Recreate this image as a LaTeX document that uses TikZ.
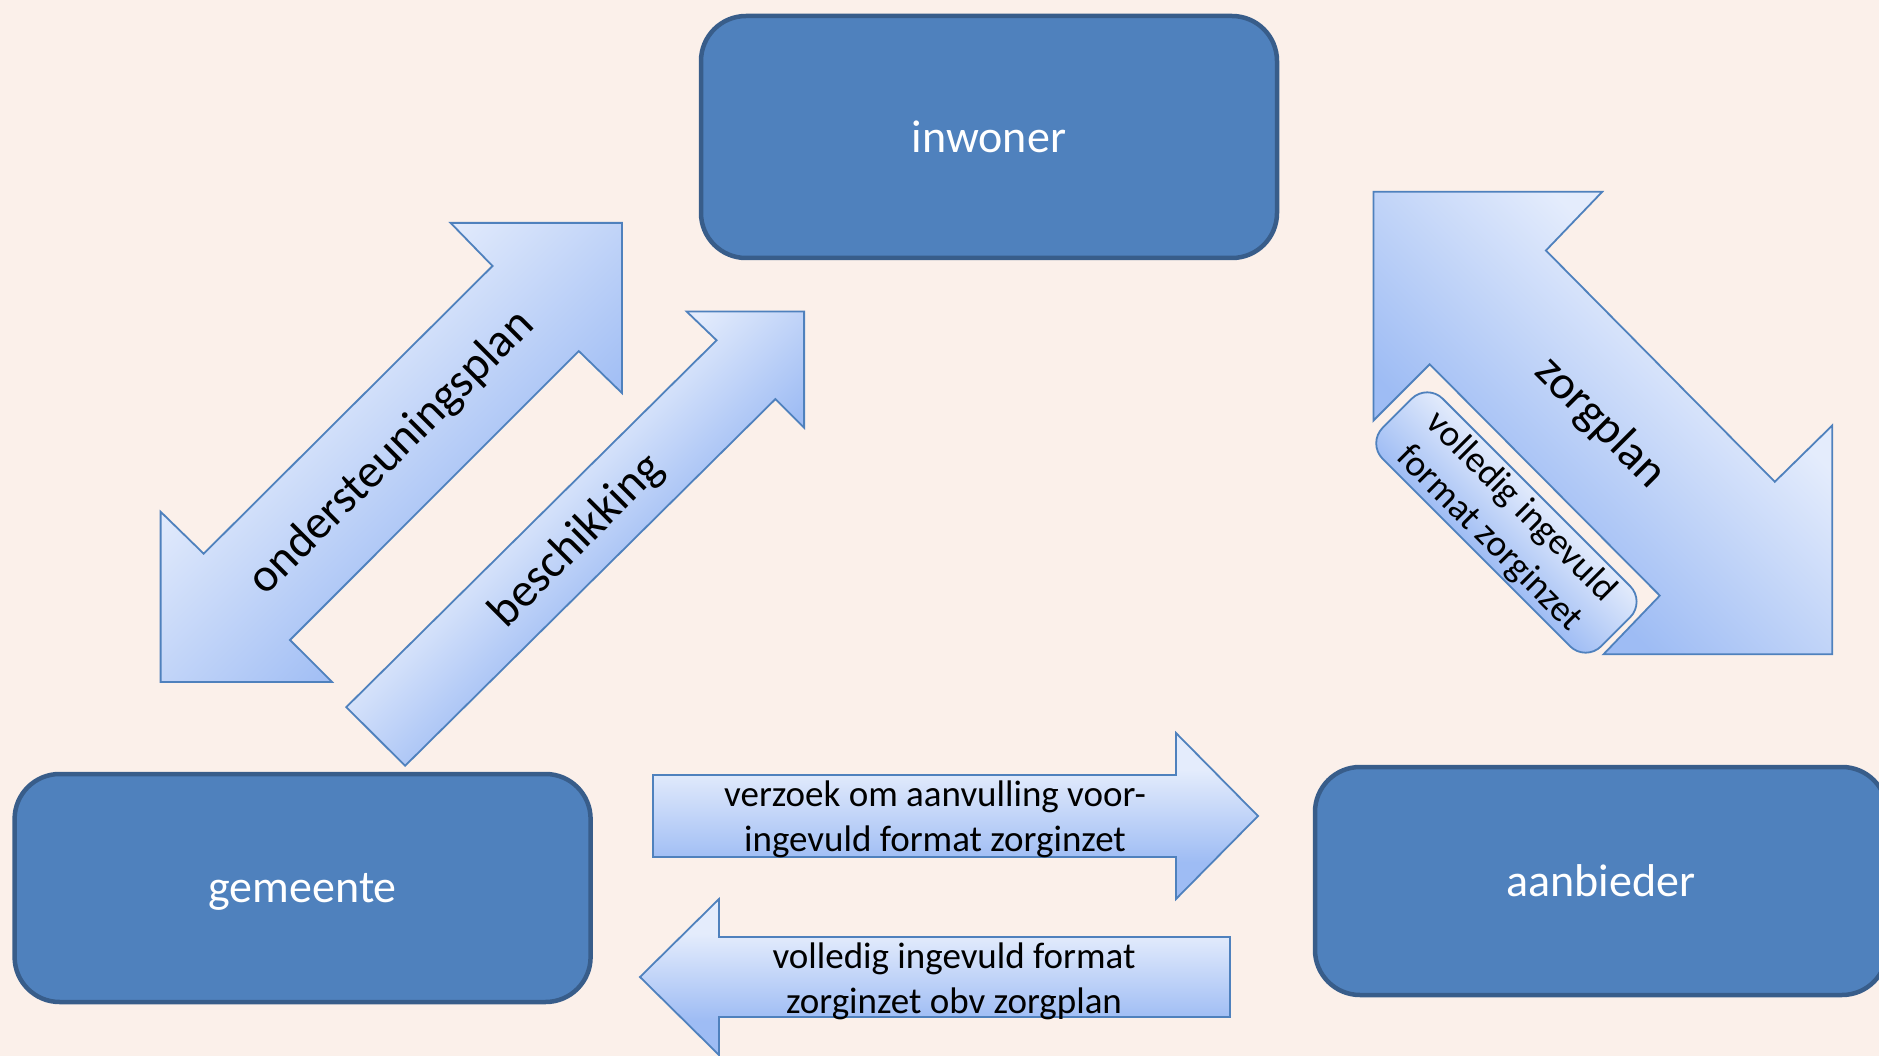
\documentclass[tikz,border=0pt]{standalone}
\usepackage{fontspec}
\setmainfont{Carlito}
\definecolor{bgc}{RGB}{251,240,234}
\definecolor{boxfill}{RGB}{79,129,189}
\definecolor{boxline}{RGB}{56,93,138}
\definecolor{arrline}{RGB}{79,129,189}
\definecolor{alight}{RGB}{228,236,252}
\definecolor{adark}{RGB}{158,188,244}
\pgfdeclareverticalshading{arrshadeA}{100bp}{color(0bp)=(adark); color(36bp)=(adark); color(64bp)=(alight); color(100bp)=(alight)}
\pgfdeclareverticalshading{arrshadeB}{100bp}{color(0bp)=(adark); color(42bp)=(adark); color(58bp)=(alight); color(100bp)=(alight)}
\begin{document}
\begin{tikzpicture}[x=1pt,y=-1pt,
  entity/.style={draw=boxline, line width=4.5pt, fill=boxfill, rounded corners=45pt,
    text=white, font=\fontsize{46}{55}\selectfont, inner sep=0pt, text depth=0pt},
  blockarrow/.style={draw=arrline, line width=1.8pt, shade, shading=arrshadeA},
  lbl/.style={text=black, inner sep=0pt, font=\fontsize{47.5}{55}\selectfont},
  smalllbl/.style={text=black, inner sep=0pt, align=center, font=\fontsize{37}{45}\selectfont}]
\clip (0,0) rectangle (1879,1056);
\fill[bgc] (0,0) rectangle (1879,1056);

% entities
\node[entity, minimum width=576pt, minimum height=242pt] (inwoner) at (989,137) {inwoner};
\node[entity, minimum width=576pt, minimum height=228pt] (gemeente) at (302.6,888) {gemeente};
\node[entity, minimum width=572pt, minimum height=228pt] (aanbieder) at (1601,881) {aanbieder};

% ondersteuningsplan double arrow
\path[blockarrow, shading angle=45]
  (160.6,681.9) -- (160.6,511.7) -- (203.7,553.7) -- (492.5,266.0) -- (450.6,222.9)
  -- (622.0,222.9) -- (622.0,393.1) -- (578.8,351.1) -- (290.0,640.0) -- (332.0,681.9) -- cycle;
\node[lbl, rotate=45] (ondersteuning) at (392,453) {ondersteuningsplan};

% beschikking arrow
\path[blockarrow, shading=arrshadeB, shading angle=45]
  (346.3,707.1) -- (716.6,340.3) -- (686.7,311.6) -- (804.1,311.6) -- (804.1,427.8)
  -- (775.4,399.1) -- (405.1,765.8) -- cycle;
\node[lbl, rotate=45] (beschikking) at (577,541) {beschikking};

% zorgplan double arrow
\path[blockarrow, shading angle=-45]
  (1373.4,191.7) -- (1602.3,191.7) -- (1545.9,250.5) -- (1774.8,481.8) -- (1832.3,425.4)
  -- (1832.3,654.3) -- (1603.5,654.3) -- (1659.8,595.6) -- (1429.7,364.3) -- (1373.4,420.6) -- cycle;
\node[lbl, rotate=-45] (zorgplan) at (1600,423) {zorgplan};

% rounded box on the zorgplan arrow
\path[draw=arrline, line width=1.8pt, shade, shading=arrshadeB, shading angle=-45, rounded corners=22pt]
  (1427.2,383.2) -- (1645.7,601.7) -- (1585.6,661.8) -- (1367.1,443.3) -- cycle;
\node[smalllbl, rotate=-45] (formatzorg) at (1505,523) {volledig ingevuld\\format zorginzet};

% verzoek arrow (right)
\path[blockarrow, shading angle=0]
  (653,775) -- (1176,775) -- (1176,733) -- (1258,816) -- (1176,899) -- (1176,857) -- (653,857) -- cycle;
\node[smalllbl] (verzoek) at (935,819) {verzoek om aanvulling voor-\\ingevuld format zorginzet};

% volledig arrow (left)
\path[blockarrow, shading angle=0]
  (1230,937) -- (719,937) -- (719,899) -- (640,977) -- (719,1055) -- (719,1017) -- (1230,1017) -- cycle;
\node[smalllbl] (volledig) at (954,981) {volledig ingevuld format\\zorginzet obv zorgplan};
\end{tikzpicture}
\end{document}
